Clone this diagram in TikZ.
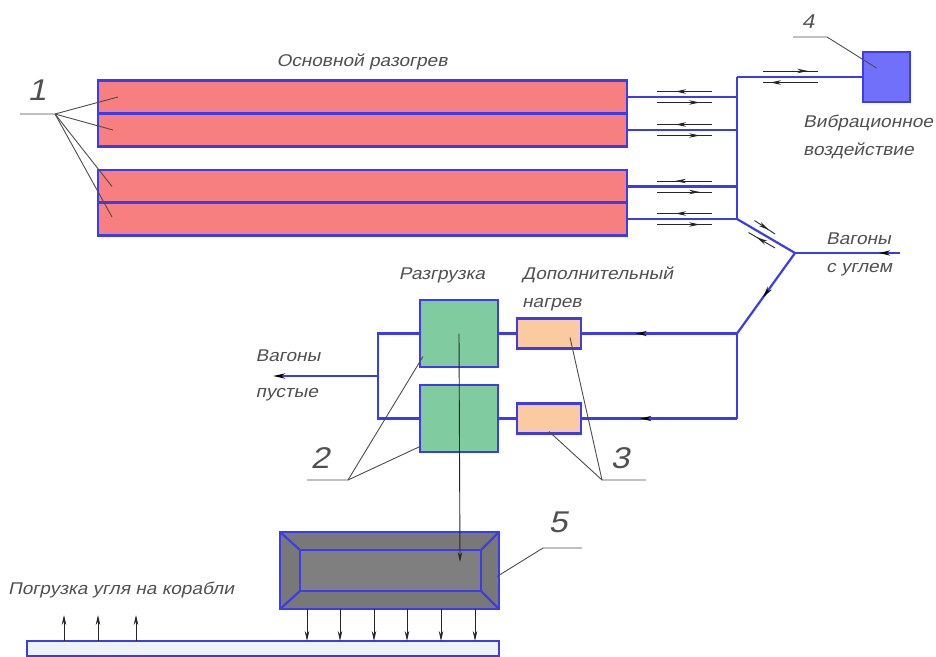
\documentclass[tikz,border=0pt]{standalone}
\usepackage{fontspec}
\setmainfont{Liberation Sans}
\newfontfamily\gostfont[FakeStretch=1.12,FakeSlant=0.22]{Liberation Sans}
\usetikzlibrary{positioning,arrows.meta,decorations.markings}

\definecolor{pipeblue}{RGB}{60,60,235}
\definecolor{heatred}{RGB}{247,127,127}
\definecolor{vibblue}{RGB}{112,112,250}
\definecolor{unlgreen}{RGB}{128,204,160}
\definecolor{addorange}{RGB}{250,202,160}
\definecolor{bunkgray}{RGB}{120,120,120}
\definecolor{beltfill}{RGB}{238,243,251}
\definecolor{txtgray}{RGB}{80,80,80}

\tikzset{
  block/.style={draw=pipeblue, line width=2.2pt, inner sep=0pt, outer sep=0pt},
  heater/.style={block, fill=heatred, minimum width=529pt, minimum height=33pt},
  pipe/.style={draw=pipeblue, line width=2.2pt},
  pipeflow/.style={pipe, postaction={decorate}, decoration={markings,
      mark=at position #1 with {\arrow{Stealth[color=black,length=11pt,width=5pt]}}}},
  flowmark/.style={draw=black!85, line width=0.9pt, postaction={decorate}, decoration={markings,
      mark=at position #1 with {\arrow{Stealth[length=11pt,width=4.5pt]}}}},
  leader/.style={draw=black!70, line width=0.9pt},
  drop/.style={draw=black!85, line width=0.9pt, -{Stealth[length=10pt,width=4.5pt]}},
  label/.style={text=txtgray, inner sep=0pt, align=left, font=\gostfont\fontsize{17}{28}\selectfont},
  posnum/.style={text=txtgray, inner sep=0pt, font=\gostfont\fontsize{30}{30}\selectfont},
}

\begin{document}
\begin{tikzpicture}[x=1pt,y=-1pt]
\useasboundingbox (0,0) rectangle (936,656);

% main heating lines
\node[heater] (h1) at (362.5,97) {};
\node[heater] (h2) at (362.5,130) {};
\node[heater] (h3) at (362.5,186.5) {};
\node[heater] (h4) at (362.5,219) {};
\node[block, fill=vibblue, minimum width=47pt, minimum height=50pt] (vib) at (886.5,77) {};

% unloading and extra heating
\node[block, fill=unlgreen, minimum width=78pt, minimum height=67pt] (unl1) at (459,333.5) {};
\node[block, fill=unlgreen, minimum width=78pt, minimum height=67pt] (unl2) at (459,418.5) {};
\node[block, fill=addorange, minimum width=64pt, minimum height=30pt] (add1) at (549,333.5) {};
\node[block, fill=addorange, minimum width=64pt, minimum height=30pt] (add2) at (549,418.5) {};

% bunker and belt
\node[block, fill=bunkgray, minimum width=219pt, minimum height=77pt] (bunk) at (389.5,570.5) {};
\node[block, fill=bunkgray!95!white, minimum width=181pt, minimum height=41pt] (bunkin) at (390.5,570.5) {};
\node[block, fill=beltfill, minimum width=472pt, minimum height=15pt] (belt) at (263,648.5) {};

% track points
\coordinate (bus) at (737,77);
\coordinate (busend) at (737,219);
\coordinate (fork) at (795,253);
\coordinate (feed) at (900,253);
\coordinate (turn) at (737,333.5);
\coordinate (turnlow) at (737,418.5);
\coordinate (split) at (378,376);
\coordinate (empty) at (273,376);
\coordinate (dropin) at (460,562);
\coordinate (shipline) at (0,615);

% tracks
\foreach \h in {h1,h2,h3,h4}
  \draw[pipe] (\h.east) -- (\h.east -| bus);
\draw[pipe] (bus) -- (busend);
\draw[pipe] (bus) -- (vib.west);
\draw[pipe] (busend) -- (fork);
\draw[pipeflow=0.2] (feed) -- (fork);
\draw[pipeflow=0.55] (fork) -- (turn);
\draw[pipeflow=0.65] (turn) -- (add1.east);
\draw[pipe] (turn) -- (turnlow);
\draw[pipeflow=0.62] (turnlow) -- (add2.east);
\draw[pipe] (add1.west) -- (unl1.east);
\draw[pipe] (add2.west) -- (unl2.east);
\draw[pipe] (unl1.west) -| (split) |- (unl2.west);
\draw[pipe, -{Stealth[color=black,length=12pt,width=5pt]}] (split) -- (empty);

% direction marks
\foreach \y in {97,130,186.5,219} {
  \draw[flowmark=0.67] (712,\y-5.5) -- (657,\y-5.5);
  \draw[flowmark=0.78] (657,\y+5.5) -- (712,\y+5.5);
}
\draw[flowmark=0.82] (763,71) -- (818,71);
\draw[flowmark=0.87] (818,82.5) -- (763,82.5);
\draw[flowmark=0.7] (754.5,220.5) -- (775,234);
\draw[flowmark=0.7] (775,248) -- (748.5,232.5);

% bunker
\draw[pipe] (bunk.north west) -- (bunkin.north west);
\draw[pipe] (bunk.north east) -- (bunkin.north east);
\draw[pipe] (bunk.south west) -- (bunkin.south west);
\draw[pipe] (bunk.south east) -- (bunkin.south east);
\draw[drop] (unl1.center) -- (dropin);
\foreach \x in {307,340,374,407,441,475} {
  \coordinate (tx) at (\x,0);
  \draw[drop] (bunk.south -| tx) -- (belt.north -| tx);
}
\foreach \x in {64,98,136} {
  \coordinate (tx) at (\x,0);
  \draw[drop] (belt.north -| tx) -- (tx |- shipline);
}

% texts
\node[label] (tmain) at (362,62) {Основной разогрев};
\node[label, anchor=west] (tvib) at (803,137) {Вибрационное\\воздействие};
\node[label, anchor=west] (tfull) at (826,254) {Вагоны\\с углем};
\node[label] (tunl) at (442,275) {Разгрузка};
\node[label, anchor=west] (tadd) at (522,289) {Дополнительный\\нагрев};
\node[label] (tempty) at (288,375) {Вагоны\\[8pt]пустые};
\node[label, anchor=west] (tship) at (8,590) {Погрузка угля на корабли};

% position numbers
\node[posnum] (p1) at (37,90) {1};
\node[posnum] (p2) at (320,458) {2};
\node[posnum] (p3) at (620,458) {3};
\node[posnum, font=\gostfont\fontsize{20}{20}\selectfont] (p4) at (808,22) {4};
\node[posnum] (p5) at (558,522) {5};

% leaders
\coordinate (l1a) at (20,114);  \coordinate (l1b) at (55,114);
\draw[leader] (l1a) -- (l1b) -- ([xshift=20pt]h1.west);
\draw[leader] (l1b) -- ([xshift=15pt]h2.west);
\draw[leader] (l1b) -- ([xshift=14pt]h3.west);
\draw[leader] (l1b) -- ([xshift=14pt,yshift=2pt]h4.west);
\coordinate (l2a) at (307,480); \coordinate (l2b) at (348,480);
\draw[leader] (l2a) -- (l2b) -- ([xshift=3pt,yshift=-23pt]unl1.west);
\draw[leader] (l2b) -- ([yshift=-28pt]unl2.west);
\coordinate (l3a) at (602,480); \coordinate (l3b) at (646,480);
\draw[leader] (l3b) -- (l3a) -- ([xshift=21pt,yshift=-4pt]add1.center);
\draw[leader] (l3a) -- ([yshift=-13pt]add2.center);
\coordinate (l4a) at (793,37);  \coordinate (l4b) at (827,37);
\draw[leader] (l4a) -- (l4b) -- ([xshift=-10pt,yshift=9pt]vib.center);
\coordinate (l5a) at (582,548); \coordinate (l5b) at (543,548);
\draw[leader] (l5a) -- (l5b) -- ([xshift=-2pt,yshift=-6pt]bunk.east);

\end{tikzpicture}
\end{document}
